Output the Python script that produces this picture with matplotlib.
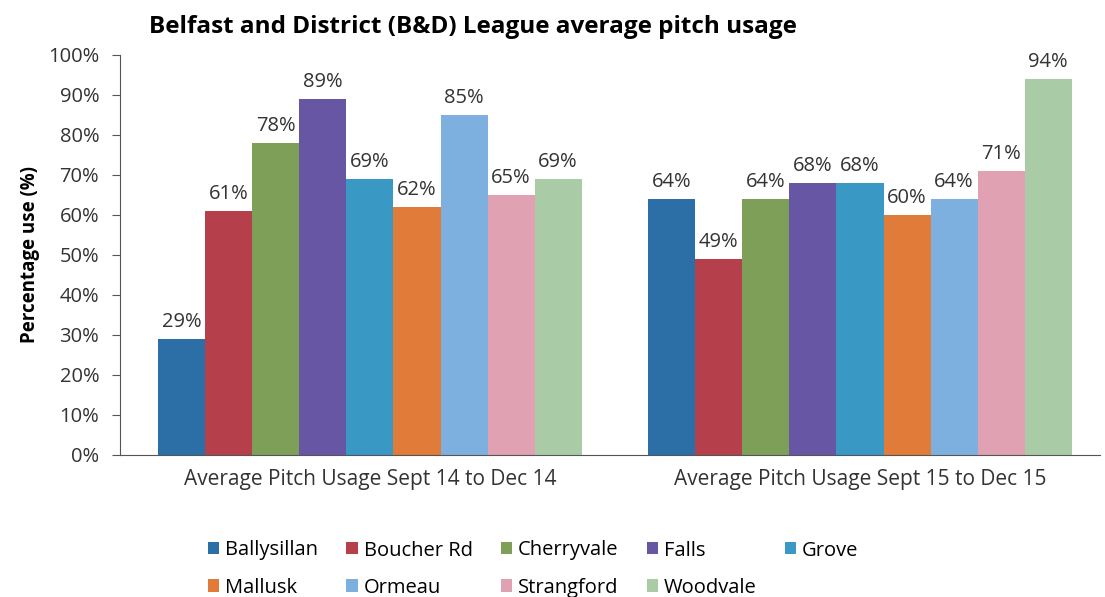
import matplotlib.pyplot as plt
import numpy as np

plt.rcParams['font.family'] = ['Open Sans', 'DejaVu Sans']

periods = ['Average Pitch Usage Sept 14 to Dec 14', 'Average Pitch Usage Sept 15 to Dec 15']
pitches = ['Ballysillan', 'Boucher Rd', 'Cherryvale', 'Falls', 'Grove',
           'Mallusk', 'Ormeau', 'Strangford', 'Woodvale']
usage_2014 = [29, 61, 78, 89, 69, 62, 85, 65, 69]
usage_2015 = [64, 49, 64, 68, 68, 60, 64, 71, 94]
colours = ['#2b6fa6', '#b53f4a', '#7d9f58', '#6656a3', '#3a98c4',
           '#e07b39', '#7eb0df', '#e0a1b3', '#a9cca6']

fig = plt.figure(figsize=(11.05, 5.97), dpi=100)
ax = fig.add_axes([0.1086, 0.2379, 0.887, 0.670])

x = np.arange(len(periods))
w = 0.096
handles = []
for i, name in enumerate(pitches):
    vals = [usage_2014[i], usage_2015[i]]
    pos = x - 4 * w + i * w
    bars = ax.bar(pos, vals, width=w, color=colours[i], label=name)
    handles.append(bars)
    for b, v in zip(bars, vals):
        ax.text(b.get_x() + b.get_width() / 2, v + 1.8, f'{v}%',
                ha='center', va='bottom', fontsize=14.5, color='#333333')

ax.set_xlim(-0.51, 1.49)
ax.set_ylim(0, 100)
ax.set_yticks(range(0, 101, 10))
ax.set_yticklabels([f'{t}%' for t in range(0, 101, 10)], fontsize=14.5, color='#333333')
ax.set_xticks(x)
ax.set_xticklabels(periods, fontsize=15, color='#333333')
ax.tick_params(axis='x', length=0, pad=10)
ax.tick_params(axis='y', length=6, color='#555555', pad=9)
for s in ['top', 'right']:
    ax.spines[s].set_visible(False)
ax.spines['left'].set_color('#555555')
ax.spines['bottom'].set_color('#555555')
ax.set_ylabel('Percentage use (%)', fontsize=13.5, fontweight='bold', labelpad=6)

fig.text(0.428, 0.955, 'Belfast and District (B&D) League average pitch usage',
         ha='center', va='center', fontsize=17.5, fontweight='bold')

# legend filled row by row: first five on the top row
order = [0, 5, 1, 6, 2, 7, 3, 8, 4]
fig.legend([handles[k] for k in order], [pitches[k] for k in order],
           loc='upper left', bbox_to_anchor=(0.172, 0.125), ncol=5, frameon=False,
           fontsize=14.5, handlelength=0.55, handleheight=0.55, handletextpad=0.3,
           columnspacing=1.4, labelspacing=0.85)

fig.savefig('out.png', dpi=100)
